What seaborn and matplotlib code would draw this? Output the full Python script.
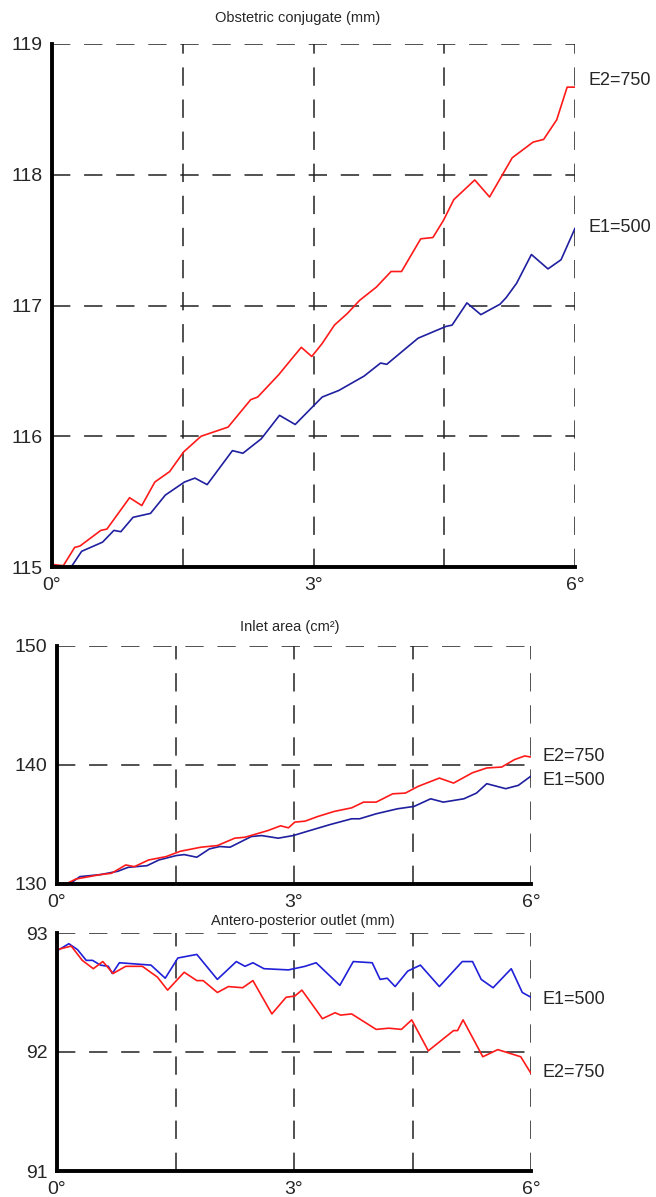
import pandas as pd
import matplotlib
matplotlib.use("Agg")
import matplotlib.pyplot as plt
import seaborn as sns

# Obstetric conjugate (mm)
oc_e2_x = [0, 0.13, 0.26, 0.32, 0.56, 0.63, 0.89, 1.03, 1.18, 1.35, 1.51, 1.71, 2.02, 2.28, 2.36,
           2.60, 2.76, 2.86, 2.98, 3.10, 3.24, 3.39, 3.53, 3.72, 3.89, 4.01, 4.23, 4.37, 4.49, 4.61,
           4.85, 5.02, 5.28, 5.52, 5.64, 5.79, 5.91, 6.0]
oc_e2_y = [115.02, 115.01, 115.15, 115.16, 115.28, 115.29, 115.53, 115.47, 115.65, 115.73, 115.88,
           116.0, 116.07, 116.28, 116.30, 116.47, 116.60, 116.68, 116.61, 116.71, 116.85, 116.94,
           117.04, 117.14, 117.26, 117.26, 117.51, 117.52, 117.65, 117.81, 117.96, 117.83, 118.13,
           118.25, 118.27, 118.42, 118.67, 118.67]
oc_e1_x = [0.22, 0.34, 0.58, 0.71, 0.79, 0.93, 1.13, 1.30, 1.52, 1.64, 1.78, 2.07, 2.19, 2.40, 2.61,
           2.79, 3.10, 3.29, 3.58, 3.77, 3.84, 4.20, 4.52, 4.59, 4.76, 4.92, 5.14, 5.21, 5.33, 5.50,
           5.69, 5.84, 6.0]
oc_e1_y = [115.0, 115.12, 115.19, 115.28, 115.27, 115.38, 115.41, 115.55, 115.65, 115.68, 115.63,
           115.89, 115.87, 115.98, 116.16, 116.09, 116.30, 116.35, 116.46, 116.56, 116.55, 116.75,
           116.84, 116.85, 117.02, 116.93, 117.01, 117.06, 117.17, 117.39, 117.28, 117.35, 117.59]

# Inlet area (cm2)
ia_e2_x = [0, 0.13, 0.24, 0.55, 0.69, 0.87, 0.98, 1.16, 1.38, 1.56, 1.82, 2.03, 2.25, 2.38, 2.67,
           2.83, 2.93, 3.01, 3.14, 3.30, 3.51, 3.73, 3.88, 4.04, 4.25, 4.41, 4.57, 4.84, 5.02, 5.26,
           5.44, 5.63, 5.79, 5.92, 6.0]
ia_e2_y = [130.0, 130.06, 130.42, 130.79, 130.90, 131.60, 131.46, 132.02, 132.30, 132.75, 133.09,
           133.23, 133.85, 133.93, 134.49, 134.89, 134.72, 135.20, 135.28, 135.67, 136.10, 136.40,
           136.88, 136.88, 137.58, 137.64, 138.20, 138.90, 138.48, 139.35, 139.75, 139.83, 140.45,
           140.76, 140.67]
ia_e1_x = [0.16, 0.29, 0.55, 0.77, 0.90, 1.14, 1.29, 1.51, 1.61, 1.77, 1.93, 2.06, 2.19, 2.46, 2.59,
           2.80, 2.99, 3.20, 3.46, 3.73, 3.83, 4.04, 4.31, 4.52, 4.73, 4.89, 5.15, 5.31, 5.44, 5.68,
           5.84, 6.0]
ia_e1_y = [130.0, 130.62, 130.79, 131.07, 131.40, 131.54, 132.02, 132.39, 132.47, 132.25, 132.95,
           133.15, 133.09, 133.99, 134.07, 133.85, 134.07, 134.49, 135.00, 135.48, 135.48, 135.90,
           136.32, 136.52, 137.16, 136.88, 137.16, 137.64, 138.43, 138.01, 138.29, 139.07]

# Antero-posterior outlet (mm)
ap_e1_x = [0, 0.15, 0.26, 0.37, 0.45, 0.55, 0.65, 0.70, 0.79, 1.19, 1.37, 1.53, 1.77, 2.03, 2.27,
           2.38, 2.48, 2.62, 2.93, 3.14, 3.28, 3.58, 3.75, 3.99, 4.09, 4.18, 4.28, 4.44, 4.60, 4.84,
           5.13, 5.26, 5.37, 5.52, 5.75, 5.89, 6.0]
ap_e1_y = [92.85, 92.91, 92.86, 92.77, 92.77, 92.73, 92.72, 92.66, 92.75, 92.73, 92.62, 92.79, 92.82,
           92.61, 92.76, 92.72, 92.75, 92.70, 92.69, 92.72, 92.75, 92.56, 92.76, 92.75, 92.61, 92.62,
           92.55, 92.68, 92.73, 92.55, 92.76, 92.76, 92.61, 92.54, 92.70, 92.50, 92.46]
ap_e2_x = [0, 0.18, 0.32, 0.46, 0.58, 0.71, 0.87, 1.08, 1.27, 1.40, 1.61, 1.77, 1.85, 2.03, 2.17,
           2.35, 2.48, 2.72, 2.90, 3.01, 3.10, 3.36, 3.52, 3.59, 3.73, 4.04, 4.20, 4.36, 4.49, 4.70,
           5.02, 5.07, 5.14, 5.39, 5.58, 5.87, 6.0]
ap_e2_y = [92.86, 92.89, 92.77, 92.70, 92.76, 92.66, 92.72, 92.72, 92.63, 92.52, 92.67, 92.60, 92.60,
           92.50, 92.55, 92.54, 92.60, 92.32, 92.46, 92.47, 92.52, 92.28, 92.33, 92.31, 92.32, 92.19,
           92.20, 92.19, 92.27, 92.01, 92.18, 92.18, 92.27, 91.96, 92.02, 91.96, 91.82]


def long_df(e1_x, e1_y, e2_x, e2_y):
    a = pd.DataFrame({"angle": e1_x, "value": e1_y, "series": "E1=500"})
    b = pd.DataFrame({"angle": e2_x, "value": e2_y, "series": "E2=750"})
    return pd.concat([a, b], ignore_index=True)


sns.set_style("white")
plt.rcParams["font.family"] = ["Liberation Sans", "DejaVu Sans"]

fig = plt.figure(figsize=(6.56, 11.97), dpi=100)

panels = [
    # (rect, title, title x/y (fig px), df, ylim, yticks, blue, label positions)
    ([52 / 656, 1 - 567 / 1197, 523 / 656, 523 / 1197], "Obstetric conjugate (mm)", 298, 18,
     long_df(oc_e1_x, oc_e1_y, oc_e2_x, oc_e2_y), (115, 119), [115, 116, 117, 118, 119],
     "#1f1fa0", {"E2=750": 118.72, "E1=500": 117.6}),
    ([57 / 656, 1 - 884 / 1197, 474 / 656, 238 / 1197], "Inlet area (cm²)", 290, 627,
     long_df(ia_e1_x, ia_e1_y, ia_e2_x, ia_e2_y), (130, 150), [130, 140, 150],
     "#1f1fa0", {"E2=750": 140.7, "E1=500": 138.7}),
    ([57 / 656, 1 - 1171 / 1197, 474 / 656, 238 / 1197], "Antero-posterior outlet (mm)", 303, 921,
     long_df(ap_e1_x, ap_e1_y, ap_e2_x, ap_e2_y), (91, 93), [91, 92, 93],
     "#2020d8", {"E1=500": 92.44, "E2=750": 91.83}),
]

for rect, title, tx, ty, df, ylim, yticks, blue, labels in panels:
    ax = fig.add_axes(rect)
    # dashed grid drawn as frame-like lines
    for gx in [1.5, 3, 4.5, 6]:
        ax.axvline(gx, color="#222222", lw=1.1, linestyle=(0, (12, 9)), zorder=1)
    for gy in yticks[1:]:
        ax.axhline(gy, color="#222222", lw=1.1, linestyle=(0, (12, 9)), zorder=1)
    sns.lineplot(data=df, x="angle", y="value", hue="series",
                 palette={"E1=500": blue, "E2=750": "#ff1a1a"},
                 legend=False, ax=ax, lw=1.2, zorder=3)
    ax.set_xlim(0, 6)
    ax.set_ylim(*ylim)
    ax.set_xticks([0, 3, 6])
    ax.set_xticklabels(["0°", "3°", "6°"])
    ax.set_yticks(yticks)
    ax.set_yticklabels([str(v) for v in yticks])
    ax.tick_params(length=0, labelsize=14, pad=7)
    ax.set_xlabel("")
    ax.set_ylabel("")
    for s in ["top", "right"]:
        ax.spines[s].set_visible(False)
    for s in ["left", "bottom"]:
        ax.spines[s].set_linewidth(2.8)
        ax.spines[s].set_color("black")
        ax.spines[s].set_zorder(4)
    for name, yv in labels.items():
        ax.text(6.15, yv, name, fontsize=13, va="center", ha="left", clip_on=False)
    fig.text(tx / 656, 1 - ty / 1197, title, fontsize=10.5, ha="center", va="center")

fig.savefig("out.png", dpi=100)
